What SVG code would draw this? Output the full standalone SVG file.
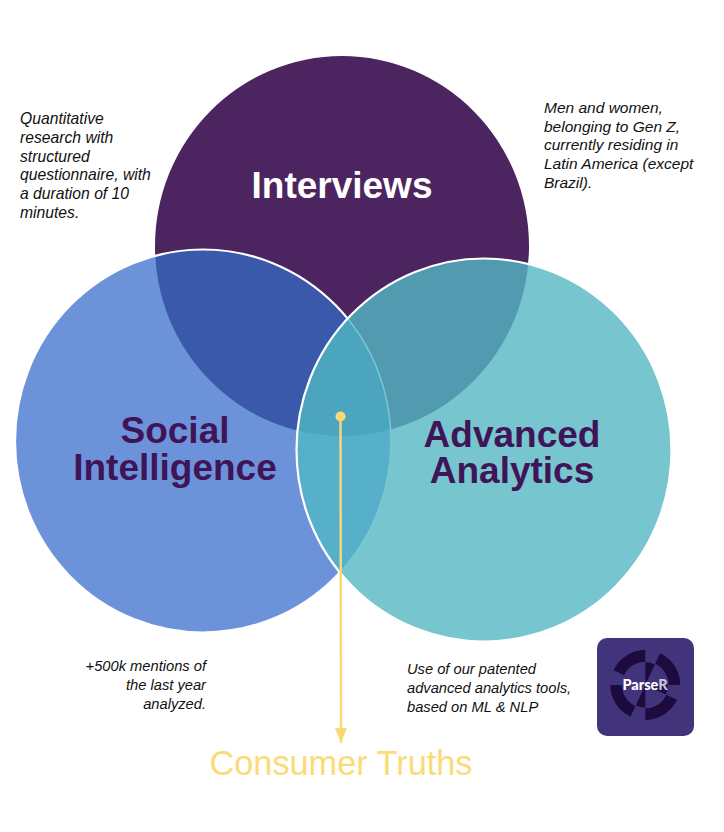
<svg xmlns="http://www.w3.org/2000/svg" width="724" height="832" viewBox="0 0 724 832">
<style>
.note{font-family:"Liberation Sans",Arial,sans-serif;font-style:italic;font-size:15.5px;fill:#111}
.wide{font-size:15.7px}
.small{font-size:14.7px}
.title{font-family:"Liberation Sans",Arial,sans-serif;font-weight:700;font-size:37px;text-anchor:middle}
.dark{fill:#3F1558}
.seg{fill:#1D0B40}
</style>
<defs>
<ellipse id="eT" cx="342" cy="246" rx="187" ry="190"/>
<ellipse id="eL" cx="203" cy="441" rx="188" ry="191.500"/>
<ellipse id="eR" cx="484" cy="450" rx="187.500" ry="191.500"/>
<clipPath id="cL"><use href="#eL"/></clipPath>
<clipPath id="cR"><use href="#eR"/></clipPath>
<marker id="ah" viewBox="0 0 15 12" refX="15" refY="6" markerWidth="15" markerHeight="12" markerUnits="userSpaceOnUse" orient="auto"><path d="M0 0L15 6L0 12Z" fill="#F9D976"/></marker>
</defs>
<rect width="724" height="832" fill="#fff"/>
<g id="interviews">
<use href="#eT" fill="#4C2560"/>
</g>
<g id="social-intelligence">
<use href="#eL" fill="#6C93DA"/>
<use href="#eT" fill="#3A59AB" clip-path="url(#cL)"/>
<use href="#eL" fill="none" stroke="#fff" stroke-width="2.200"/>
</g>
<g id="advanced-analytics">
<use href="#eR" fill="#77C5CF"/>
<use href="#eT" fill="#529AB0" clip-path="url(#cR)"/>
<g clip-path="url(#cR)">
<use href="#eL" fill="#57B0CA"/>
<g clip-path="url(#cL)"><use href="#eT" fill="#4CA5BF"/></g>
<use href="#eL" fill="none" stroke="#7CC8D2" stroke-width="1.500"/>
</g>
<use href="#eR" fill="none" stroke="#fff" stroke-width="2.200"/>
</g>
<g id="connectors">
<line x1="340.500" y1="416" x2="341" y2="743" stroke="#F9D976" stroke-width="2.400" marker-end="url(#ah)"/>
<circle cx="340.500" cy="416.500" r="5" fill="#F9D976"/>
</g>
<g id="labels">
<text class="title" x="342" y="198" fill="#fff">Interviews</text>
<text class="title dark" x="175" y="443">Social</text>
<text class="title dark" x="175" y="480">Intelligence</text>
<text class="title dark" x="512" y="447">Advanced</text>
<text class="title dark" x="512" y="483">Analytics</text>
<text class="note wide" x="20" y="124">Quantitative</text>
<text class="note wide" x="20" y="142.800">research with</text>
<text class="note wide" x="20" y="161.600">structured</text>
<text class="note wide" x="20" y="180.400">questionnaire, with</text>
<text class="note wide" x="20" y="199.200">a duration of 10</text>
<text class="note wide" x="20" y="218">minutes.</text>
<text class="note" x="544" y="113">Men and women,</text>
<text class="note" x="544" y="131.700">belonging to Gen Z,</text>
<text class="note" x="544" y="150.400">currently residing in</text>
<text class="note" x="544" y="169.100">Latin America (except</text>
<text class="note" x="544" y="187.800">Brazil).</text>
<text class="note small" x="206" y="671" text-anchor="end">+500k mentions of</text>
<text class="note small" x="206" y="690" text-anchor="end">the last year</text>
<text class="note small" x="206" y="709" text-anchor="end">analyzed.</text>
<text class="note small" x="407" y="674">Use of our patented</text>
<text class="note small" x="407" y="693">advanced analytics tools,</text>
<text class="note small" x="407" y="712">based on ML &amp; NLP</text>
<text x="341" y="775" text-anchor="middle" font-family="'Liberation Sans',Arial,sans-serif" font-size="34.300" fill="#F9DC78">Consumer Truths</text>
</g>
<g id="parser-logo">
<rect x="597" y="638" width="97" height="98" rx="10" fill="#41347A"/>
<g transform="translate(645.300 685) scale(.3333)">
<path class="seg" d="M-95.200 -44.400A105 105 0 0 1 0 -105V-70A70 70 0 0 0 -63.400 -29.600Z"/>
<path class="seg" d="M44.400 -95.200A105 105 0 0 1 105 0H70A70 70 0 0 0 29.600 -63.400Z"/>
<path class="seg" d="M95.200 44.400A105 105 0 0 1 0 105V70A70 70 0 0 0 63.400 29.600Z"/>
<path class="seg" d="M-44.400 95.200A105 105 0 0 1 -105 0H-70A70 70 0 0 0 -29.600 63.400Z"/>
<path class="seg" d="M0 0V-68A68 68 0 0 1 28.700 -61.600Z"/>
<path class="seg" d="M0 0H68A68 68 0 0 1 61.600 28.700Z"/>
<path class="seg" d="M0 0V68A68 68 0 0 1 -28.700 61.600Z"/>
</g>
<text x="645" y="690" text-anchor="middle" font-family="Lato,'Liberation Sans',sans-serif" font-weight="900" font-size="14.500" fill="#fff">Parse<tspan fill="#C9C5DC">R</tspan></text>
</g>
</svg>
